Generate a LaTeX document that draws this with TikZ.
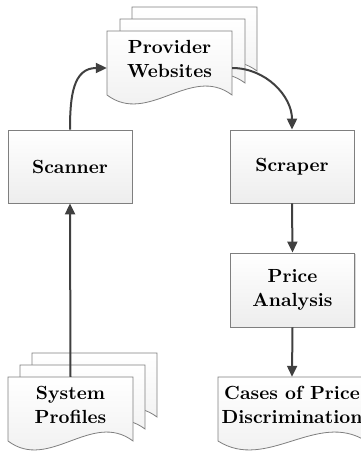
\documentclass[tikz,border=0pt]{standalone}
\usepackage{fontspec}
\newfontfamily\lmbold{lmroman10-bold.otf}
\usetikzlibrary{arrows.meta,shadows}
\definecolor{linegray}{HTML}{7F7F7F}
\definecolor{arrowgray}{HTML}{404040}
\tikzstyle{arrow} = [-{Triangle[length=11pt,width=10pt]}, line width=2pt, draw=arrowgray]
\tikzstyle{gbox} = [draw=linegray, line width=0.8pt, top color=white, bottom color=gray!14, minimum width=124, minimum height=73, align=center, font=\fontsize{19}{24}\lmbold, drop shadow={shadow xshift=1pt, shadow yshift=-1pt, opacity=0.3}]
\tikzstyle{gdoc} = [align=center, inner sep=0, minimum width=125, minimum height=55, font=\fontsize{19}{24}\lmbold]
\tikzstyle{docline} = [draw=linegray, line width=0.8pt, top color=white, bottom color=gray!14]

\newcommand{\docpage}[4]{%
  \pgfmathsetmacro{\docR}{#1+#3}
  \pgfmathsetmacro{\docB}{#2-#4}
  \draw [docline] (#1,#2) -- (\docR,#2) -- (\docR,\docB)
    .. controls ({#1+0.67*#3},{\docB+31}) and ({#1+0.33*#3},{\docB-31}) .. (#1,\docB) -- cycle;
}

\begin{document}
\begin{tikzpicture}[x=1pt,y=1pt]
    \useasboundingbox (0,0) rectangle (361,-453);
    \clip (0,0) rectangle (361,-453);

    \docpage{132}{-7}{125}{64}
    \docpage{120}{-19}{125}{64}
    \docpage{107}{-31}{125}{64}
    \docpage{32}{-353}{125}{64}
    \docpage{20}{-365}{125}{64}
    \docpage{8}{-377}{125}{64}
    \docpage{218}{-377}{148}{64}

    \node [gdoc] (prov) at (169.5,-58.5) {Provider\\Websites};
    \node [gdoc] (prof) at (70.5,-404.5) {System\\Profiles};
    \node [gdoc, minimum width=148] (cases) at (292,-404.5) {Cases of Price\\Discrimination};
    \node [gbox] (scan) at (70,-166.5) {Scanner};
    \node [gbox] (scrap) at (292,-166.5) {Scraper};
    \node [gbox, minimum height=74] (price) at (292.5,-290) {Price\\Analysis};

    \draw [arrow] (prof.north) -- (scan.south);
    \draw [arrow] (scan.north) to[out=90,in=180,looseness=1.2] ([yshift=-9.5pt]prov.west);
    \draw [arrow] ([yshift=-9.5pt]prov.east) to[out=0,in=90] (scrap.north);
    \draw [arrow] (scrap.south) -- (price.north);
    \draw [arrow] (price.south) -- (cases.north);
\end{tikzpicture}
\end{document}
